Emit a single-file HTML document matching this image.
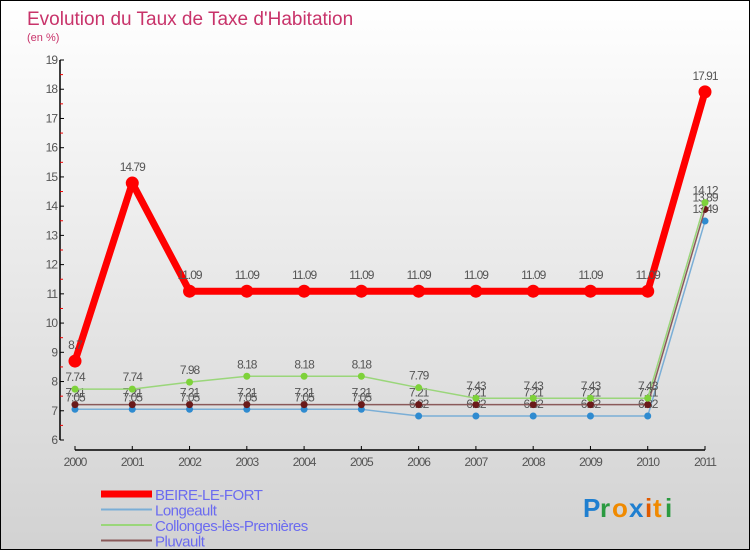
<!DOCTYPE html>
<html><head><meta charset="utf-8"><style>
html,body{margin:0;padding:0}
body{width:750px;height:550px;overflow:hidden;font-family:"Liberation Sans",sans-serif}
#wrap{position:relative;width:748px;height:548px;border:1px solid #000;background:linear-gradient(#ffffff,#d2d2d2)}
</style></head><body>
<div id="wrap">
<svg id="chart" width="748" height="548" xmlns="http://www.w3.org/2000/svg">
<text x="26" y="24" font-size="19" fill="#c8336a">Evolution du Taux de Taxe d'Habitation</text>
<text x="26" y="40" font-size="11" fill="#c8336a">(en %)</text>
<g id="axes"></g>
<g id="series"></g>
<g id="legend"></g>
<g font-size="26" font-weight="bold" font-family="Liberation Sans, sans-serif">
<text x="582" y="516" fill="#1f7fd0">P</text><text x="599" y="516" fill="#2a9a40">r</text><text x="611" y="516" fill="#f08a00">o</text><text x="628" y="516" fill="#1f7fd0">x</text><text x="644" y="516" fill="#e05a00">i</text><text x="652" y="516" fill="#f08a00">t</text><text x="664" y="516" fill="#2a9a40">i</text>
</g>
</svg>
</div>
<script>
const years=["2000","2001","2002","2003","2004","2005","2006","2007","2008","2009","2010","2011"];
const beire=[8.7,14.79,11.09,11.09,11.09,11.09,11.09,11.09,11.09,11.09,11.09,17.91];
const longeault=[7.05,7.05,7.05,7.05,7.05,7.05,6.82,6.82,6.82,6.82,6.82,13.49];
const collonges=[7.74,7.74,7.98,8.18,8.18,8.18,7.79,7.43,7.43,7.43,7.43,14.12];
const pluvault=[7.21,7.21,7.21,7.21,7.21,7.21,7.21,7.21,7.21,7.21,7.21,13.89];
const yTicks=[6,7,8,9,10,11,12,13,14,15,16,17,18,19];
const NS="http://www.w3.org/2000/svg";
const yMin=6,yMax=19,yTop=59,yBot=439,x0=74,x1=704;
function X(i){return x0+(x1-x0)*i/(years.length-1);}
function Y(v){return yBot-(v-yMin)/(yMax-yMin)*(yBot-yTop);}
function el(t,a,p){const e=document.createElementNS(NS,t);for(const k in a)e.setAttribute(k,a[k]);p.appendChild(e);return e;}
const axes=document.getElementById('axes');
const yl=el('line',{x1:59,y1:yTop,x2:59,y2:yBot,stroke:'#000','stroke-width':1.5},axes);


yTicks.forEach(v=>{
 el('line',{x1:59,y1:Y(v),x2:63,y2:Y(v),stroke:'#000'},axes);
 if(v<yMax)el('line',{x1:59,y1:Y(v+0.5),x2:62,y2:Y(v+0.5),stroke:'#e00'},axes);
 const t=el('text',{x:56,y:Y(v)+4,'font-size':12,fill:'#555','text-anchor':'end','letter-spacing':'-1'},axes);
 t.textContent=v;
 
 
});
const xl=el('line',{x1:X(0),y1:449,x2:X(11),y2:449,stroke:'#000','stroke-width':1.5},axes);


years.forEach((y,i)=>{
 el('line',{x1:X(i),y1:445,x2:X(i),y2:449,stroke:'#000'},axes);
 const t=el('text',{x:X(i),y:465,'font-size':12,fill:'#555','text-anchor':'middle','letter-spacing':'-1'},axes);
 t.textContent=y;
 
 
});
const sg=document.getElementById('series');
const defs=[
 {name:'longeault',data:longeault,line:'#7aaed6',dot:'#2f8bd0',w:1.5,r:3.5},
 {name:'pluvault',data:pluvault,line:'#8a5a5a',dot:'#6a1a1a',w:1.5,r:3.5},
 {name:'collonges',data:collonges,line:'#9ad67a',dot:'#7ed23a',w:1.5,r:3.5},
 {name:'beire',data:beire,line:'#ff0000',dot:'#ff0000',w:7,r:6.5}
];
defs.forEach(s=>{
 const g=el('g',{},sg);
 
 
 el('polyline',{points:s.data.map((v,i)=>X(i)+','+Y(v)).join(' '),fill:'none',stroke:s.line,'stroke-width':s.w,'stroke-linejoin':'round'},g);
 s.data.forEach((v,i)=>{
  const c=el('circle',{cx:X(i),cy:Y(v),r:s.r,fill:s.dot},g);
  
  
  const t=el('text',{x:X(i),y:Y(v)-(s.name==='beire'?12:8),'font-size':12,fill:'#555','text-anchor':'middle','letter-spacing':'-1'},g);
  t.textContent=String(v).replace(/(\.\d)$/,'$1');
  
  
 });
});
const lg=document.getElementById('legend');
const leg=[['BEIRE-LE-FORT','#ff0000',7],['Longeault','#7aaed6',2],['Collonges-lès-Premières','#9ad67a',2],['Pluvault','#8a5a5a',2]];
leg.forEach((l,i)=>{
 const y=493+i*15.5;
 const g=el('g',{},lg);
 
 
 el('line',{x1:100,y1:y,x2:151,y2:y,stroke:l[1],'stroke-width':l[2]},g);
 const t=el('text',{x:154,y:y+6,'font-size':15,fill:'#6b6bf0','letter-spacing':'-0.5'},g);
 t.textContent=l[0];
});
</script>
</body></html>
